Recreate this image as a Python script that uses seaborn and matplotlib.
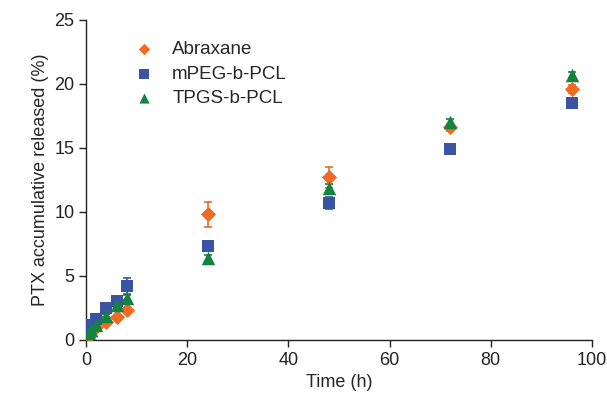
import matplotlib
matplotlib.use("Agg")
import matplotlib.pyplot as plt
import seaborn as sns
import pandas as pd
import numpy as np

time_h = [0.5, 1, 2, 4, 6, 8, 24, 48, 72, 96]
abraxane = [0.3, 0.6, 1.0, 1.4, 1.8, 2.3, 9.8, 12.7, 16.6, 19.6]
abraxane_err = [0.1, 0.1, 0.1, 0.1, 0.1, 0.2, 1.0, 0.8, 0.3, 0.3]
mpeg = [0.8, 1.2, 1.6, 2.5, 3.0, 4.2, 7.3, 10.7, 14.9, 18.5]
mpeg_err = [0.1, 0.1, 0.1, 0.1, 0.2, 0.6, 0.3, 0.5, 0.2, 0.2]
tpgs = [0.5, 0.8, 1.2, 1.9, 2.7, 3.3, 6.4, 11.9, 17.0, 20.7]
tpgs_err = [0.1, 0.1, 0.1, 0.1, 0.2, 0.2, 0.2, 0.3, 0.3, 0.2]

series = ["Abraxane", "mPEG-b-PCL", "TPGS-b-PCL"]
colors = {"Abraxane": "#F26A22", "mPEG-b-PCL": "#3A54A4", "TPGS-b-PCL": "#138440"}
markers = {"Abraxane": "D", "mPEG-b-PCL": "s", "TPGS-b-PCL": "^"}
sizes = {"Abraxane": 60, "mPEG-b-PCL": 85, "TPGS-b-PCL": 95}

df = pd.DataFrame({
    "time": time_h * 3,
    "value": abraxane + mpeg + tpgs,
    "err": abraxane_err + mpeg_err + tpgs_err,
    "formulation": [s for s in series for _ in time_h],
})

sns.set_style("ticks")
plt.rcParams["font.family"] = ["Liberation Sans", "DejaVu Sans"]

fig = plt.figure(figsize=(6.07, 4.08), dpi=100)
ax = fig.add_axes([0.142, 0.167, 0.833, 0.784])

for s in series:
    d = df[df["formulation"] == s]
    ax.errorbar(d["time"], d["value"], yerr=d["err"], fmt="none",
                ecolor=colors[s], elinewidth=1.2, capsize=3, capthick=1.2, zorder=2)

for s in series:
    d = df[df["formulation"] == s]
    sns.scatterplot(data=d, x="time", y="value", ax=ax, color=colors[s],
                    marker=markers[s], s=sizes[s], linewidth=0, label=s, zorder=3)

ax.set_xlim(0, 100)
ax.set_ylim(0, 25)
ax.set_xticks(range(0, 101, 20))
ax.set_yticks(range(0, 26, 5))
ax.set_xlabel("Time (h)", fontsize=13)
ax.set_ylabel("PTX accumulative released (%)", fontsize=13)
ax.tick_params(labelsize=13, direction="out", length=5, width=1, colors="#222222")
for sp in ["left", "bottom"]:
    ax.spines[sp].set_linewidth(1)
    ax.spines[sp].set_color("#222222")
sns.despine(ax=ax)

ax.legend(loc="upper left", bbox_to_anchor=(0.055, 0.97), frameon=False,
          fontsize=13.5, markerscale=0.75, handletextpad=0.5, labelspacing=0.4,
          borderaxespad=0.2)

fig.savefig("out.png", dpi=100)
